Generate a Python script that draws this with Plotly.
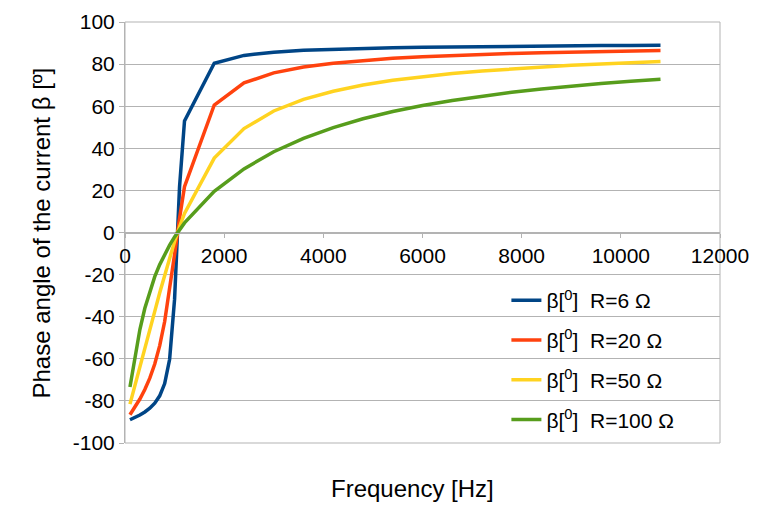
import plotly.graph_objects as go

# frequency points [Hz]
freq_hz = [100, 200, 300, 400, 500, 600, 700, 800, 900, 1000, 1100, 1200,
           1800, 2400, 3000, 3600, 4200, 4800, 5400, 6000, 6600, 7200,
           7800, 8400, 9000, 9600, 10200, 10800]

# phase angle of the current [deg]
beta_r6 = [-88.98, -87.90, -86.69, -85.27, -83.50, -81.11, -77.59, -71.75,
           -60.22, -31.66, 21.71, 53.02, 80.40, 84.12, 85.67, 86.54, 87.10,
           87.50, 87.81, 88.04, 88.23, 88.38, 88.51, 88.62, 88.72, 88.80,
           88.87, 88.93]
beta_r20 = [-86.59, -83.02, -79.10, -74.60, -69.19, -62.45, -53.74, -42.31,
            -27.65, -10.48, 6.81, 21.73, 60.58, 71.06, 75.82, 78.60, 80.43,
            81.74, 82.72, 83.49, 84.11, 84.62, 85.05, 85.41, 85.73, 86.00,
            86.24, 86.45]
beta_r50 = [-81.53, -72.97, -64.29, -55.44, -46.48, -37.48, -28.60, -20.00,
            -11.84, -4.23, 2.74, 9.06, 35.36, 49.37, 57.73, 63.25, 67.12,
            70.05, 72.29, 74.08, 75.54, 76.76, 77.78, 78.66, 79.42, 80.08,
            80.67, 81.19]
beta_r100 = [-73.41, -58.52, -46.08, -35.98, -27.76, -20.98, -15.25, -10.31,
             -5.98, -2.12, 1.37, 4.56, 19.53, 30.23, 38.38, 44.76, 49.86,
             54.01, 57.45, 60.30, 62.72, 64.79, 66.59, 68.14, 69.51, 70.73,
             71.81, 72.78]

series_names = ["β[<sup>0</sup>]\u00a0 R=6 Ω", "β[<sup>0</sup>]\u00a0 R=20 Ω",
                "β[<sup>0</sup>]\u00a0 R=50 Ω", "β[<sup>0</sup>]\u00a0 R=100 Ω"]
series_colors = ["#004586", "#ff420e", "#ffd320", "#579d1c"]
series_values = [beta_r6, beta_r20, beta_r50, beta_r100]

# tick labels (plain hyphen for negatives, as in the reference)
x_tickvals = [0, 2000, 4000, 6000, 8000, 10000, 12000]
x_ticktext = ["0", "2000", "4000", "6000", "8000", "10000", "12000"]
y_tickvals = [-100, -80, -60, -40, -20, 0, 20, 40, 60, 80, 100]
y_ticktext = ["-100", "-80", "-60", "-40", "-20", "0", "20", "40", "60", "80", "100"]

gridColor = '#b3b3b3'

fig = go.Figure()
for name, vals, color in zip(series_names, series_values, series_colors):
    fig.add_trace(go.Scatter(x=freq_hz, y=vals, mode='lines', name=name,
                             legendgroup=name,
                             line=dict(color=color, width=3.5)))

# page has an 8px body margin, so margins are shifted by that amount
fig.update_layout(
    width=766, height=523,
    margin=dict(l=117, r=54, t=14, b=88, autoexpand=False),
    paper_bgcolor='white', plot_bgcolor='white',
    font=dict(family="Liberation Sans", color='black', size=21),
    showlegend=True,
    legend=dict(x=0.641, y=0.387, xanchor='left', yanchor='top',
                bgcolor='rgba(0,0,0,0)', font=dict(size=21),
                tracegroupgap=9.5),
    xaxis=dict(range=[0, 12000], tickvals=x_tickvals, ticktext=x_ticktext,
               anchor='free', position=0.5, automargin=False,
               showgrid=False, zeroline=False, showline=True, linecolor=gridColor,
               linewidth=1, ticks='outside', ticklen=4, tickcolor=gridColor,
               tickfont=dict(size=21)),
    yaxis=dict(range=[-100, 100], tickvals=y_tickvals, ticktext=y_ticktext,
               automargin=False, showgrid=True, gridcolor=gridColor,
               zeroline=False, showline=True, linecolor=gridColor, linewidth=1,
               ticks='outside', ticklen=5, tickcolor=gridColor,
               tickfont=dict(size=21)),
    shapes=[dict(type='rect', xref='paper', yref='paper', x0=0, x1=1, y0=0, y1=1,
                 line=dict(color=gridColor, width=1), layer='below')],
    annotations=[
        dict(text="Frequency [Hz]", xref='paper', yref='paper', x=0.4824, y=-0.1069,
             xanchor='center', yanchor='middle', showarrow=False, font=dict(size=24)),
        dict(text="Phase angle of the current β [º]", xref='paper', yref='paper',
             x=-0.1395, y=0.5, xanchor='center', yanchor='middle', textangle=-90,
             showarrow=False, font=dict(size=24)),
    ],
)

fig.write_html("out.html")
